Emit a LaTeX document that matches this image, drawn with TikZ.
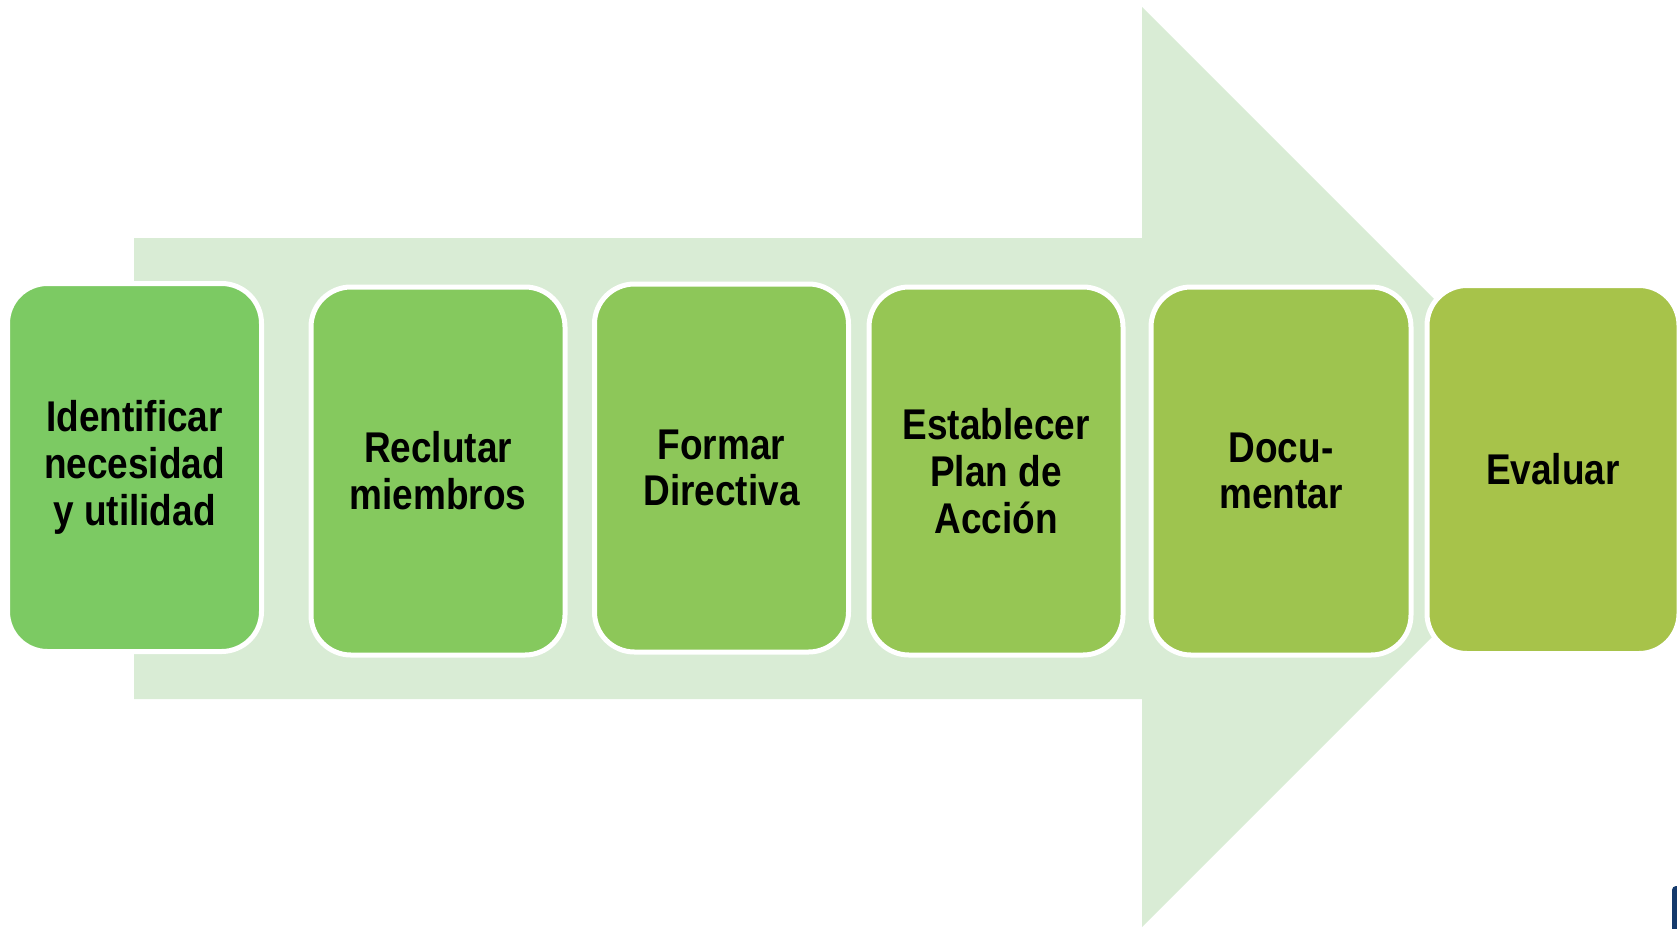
\documentclass[tikz,border=0pt]{standalone}
\usepackage{fontspec}
\setmainfont{Liberation Sans}[FakeStretch=0.86]
\definecolor{arrowbg}{RGB}{217,236,213}
\definecolor{cA}{RGB}{124,202,99}
\definecolor{cB}{RGB}{133,201,94}
\definecolor{cC}{RGB}{141,199,89}
\definecolor{cD}{RGB}{150,198,84}
\definecolor{cE}{RGB}{158,196,79}
\definecolor{cF}{RGB}{167,195,74}
\definecolor{edgeblue}{RGB}{20,58,108}
\begin{document}
\begin{tikzpicture}[x=0.5pt,y=-0.5pt,
  stepbox/.style={draw=white, line width=2.5pt, rounded corners=20pt,
    minimum width=#1, minimum height=368*0.5pt, align=center, inner sep=0pt,
    font=\bfseries\fontsize{21.5pt}{23.4pt}\selectfont, text=black},
  stepbox/.default=127pt]
\useasboundingbox (0,0) rectangle (1677,928);
% big arrow
\fill[arrowbg] (134,238) -- (1142,238) -- (1142,7) -- (1602,467) -- (1142,927) -- (1142,699) -- (134,699) -- cycle;
% boxes
\node[stepbox, fill=cA] (s1) at (134.5,467.5) {Identificar\\necesidad\\y utilidad};
\node[stepbox, fill=cB] (s2) at (438,471) {Reclutar\\miembros};
\node[stepbox, fill=cC] (s3) at (721.5,468) {Formar\\Directiva};
\node[stepbox, fill=cD] (s4) at (996,471) {Establecer\\Plan de\\Acción};
\node[stepbox=130pt, fill=cE] (s5) at (1281,471) {Docu-\\mentar};
\node[stepbox=126pt, fill=cF] (s6) at (1553,469.5) {Evaluar};
% cut-off fragment at the lower right corner
\fill[edgeblue, rounded corners=2pt] (1672,935) -- (1672,886) -- (1682,886) -- (1682,935) -- cycle;
\end{tikzpicture}
\end{document}
